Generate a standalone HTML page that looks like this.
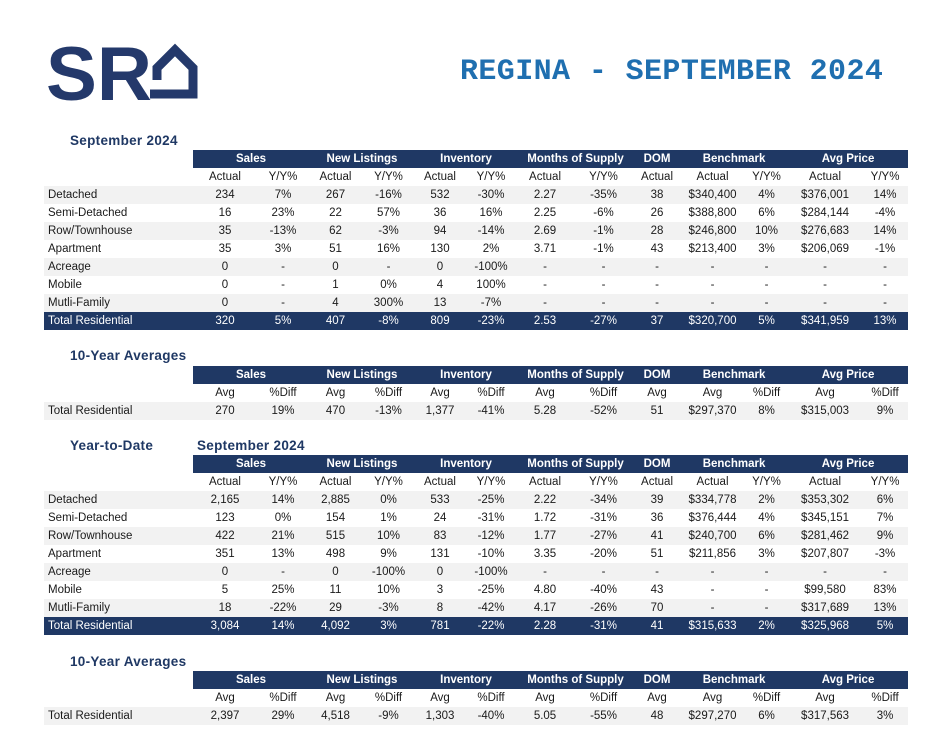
<!DOCTYPE html>
<html><head><meta charset="utf-8"><style>
body{margin:0;width:928px;height:751px;background:#fff;position:relative;font-family:"Liberation Sans",Arial,sans-serif;overflow:hidden}
.t{position:absolute;left:44px;border-collapse:collapse;table-layout:fixed;width:864px;font-size:11.5px;color:#1a1a1a}
.t td{height:18px;padding:0;text-align:center;white-space:nowrap;line-height:18px}
.t td.l{text-align:left;padding-left:4px}
.h td.b{background:#1f3864;color:#fff;font-weight:bold}
.g td{background:#f2f2f2}
.tot td{background:#1f3864;color:#fff}
.sec{position:absolute;font-weight:bold;font-size:13.5px;color:#1f3864;letter-spacing:0.3px}
.title{position:absolute;left:460px;top:55px;font-family:"Liberation Mono",monospace;font-weight:bold;font-size:30px;color:#1f6fb0;letter-spacing:0.4px}
</style></head><body>
<svg style="position:absolute;left:40px;top:38px" width="170" height="70">
<text x="6" y="62" font-family="Liberation Sans,Arial,sans-serif" font-weight="bold" font-size="76" fill="#24396b" textLength="106" lengthAdjust="spacingAndGlyphs">SR</text>
<path d="M110 56 L153 56 L153 30 L135 12 L117 30 L117 42" fill="none" stroke="#24396b" stroke-width="9" stroke-linejoin="miter"/>
</svg>
<div class="title">REGINA - SEPTEMBER 2024</div>

<div class="sec" style="left:70px;top:133px">September 2024</div>
<table class="t" style="top:150px">
<colgroup><col style="width:149px"><col style="width:64px"><col style="width:52px"><col style="width:53px"><col style="width:53px"><col style="width:50px"><col style="width:52px"><col style="width:56px"><col style="width:61px"><col style="width:46px"><col style="width:65px"><col style="width:43px"><col style="width:74px"><col style="width:46px"></colgroup>
<tr class="h"><td></td><td class="b" colspan="2">Sales</td><td class="b" colspan="2">New Listings</td><td class="b" colspan="2">Inventory</td><td class="b" colspan="2">Months of Supply</td><td class="b">DOM</td><td class="b" colspan="2">Benchmark</td><td class="b" colspan="2">Avg Price</td></tr>
<tr><td></td><td>Actual</td><td>Y/Y%</td><td>Actual</td><td>Y/Y%</td><td>Actual</td><td>Y/Y%</td><td>Actual</td><td>Y/Y%</td><td>Actual</td><td>Actual</td><td>Y/Y%</td><td>Actual</td><td>Y/Y%</td></tr>
<tr class="g"><td class="l">Detached</td><td>234</td><td>7%</td><td>267</td><td>-16%</td><td>532</td><td>-30%</td><td>2.27</td><td>-35%</td><td>38</td><td>$340,400</td><td>4%</td><td>$376,001</td><td>14%</td></tr>
<tr><td class="l">Semi-Detached</td><td>16</td><td>23%</td><td>22</td><td>57%</td><td>36</td><td>16%</td><td>2.25</td><td>-6%</td><td>26</td><td>$388,800</td><td>6%</td><td>$284,144</td><td>-4%</td></tr>
<tr class="g"><td class="l">Row/Townhouse</td><td>35</td><td>-13%</td><td>62</td><td>-3%</td><td>94</td><td>-14%</td><td>2.69</td><td>-1%</td><td>28</td><td>$246,800</td><td>10%</td><td>$276,683</td><td>14%</td></tr>
<tr><td class="l">Apartment</td><td>35</td><td>3%</td><td>51</td><td>16%</td><td>130</td><td>2%</td><td>3.71</td><td>-1%</td><td>43</td><td>$213,400</td><td>3%</td><td>$206,069</td><td>-1%</td></tr>
<tr class="g"><td class="l">Acreage</td><td>0</td><td>-</td><td>0</td><td>-</td><td>0</td><td>-100%</td><td>-</td><td>-</td><td>-</td><td>-</td><td>-</td><td>-</td><td>-</td></tr>
<tr><td class="l">Mobile</td><td>0</td><td>-</td><td>1</td><td>0%</td><td>4</td><td>100%</td><td>-</td><td>-</td><td>-</td><td>-</td><td>-</td><td>-</td><td>-</td></tr>
<tr class="g"><td class="l">Mutli-Family</td><td>0</td><td>-</td><td>4</td><td>300%</td><td>13</td><td>-7%</td><td>-</td><td>-</td><td>-</td><td>-</td><td>-</td><td>-</td><td>-</td></tr>
<tr class="tot"><td class="l">Total Residential</td><td>320</td><td>5%</td><td>407</td><td>-8%</td><td>809</td><td>-23%</td><td>2.53</td><td>-27%</td><td>37</td><td>$320,700</td><td>5%</td><td>$341,959</td><td>13%</td></tr>
</table>

<div class="sec" style="left:70px;top:348px">10-Year Averages</div>
<table class="t" style="top:366px">
<colgroup><col style="width:149px"><col style="width:64px"><col style="width:52px"><col style="width:53px"><col style="width:53px"><col style="width:50px"><col style="width:52px"><col style="width:56px"><col style="width:61px"><col style="width:46px"><col style="width:65px"><col style="width:43px"><col style="width:74px"><col style="width:46px"></colgroup>
<tr class="h"><td></td><td class="b" colspan="2">Sales</td><td class="b" colspan="2">New Listings</td><td class="b" colspan="2">Inventory</td><td class="b" colspan="2">Months of Supply</td><td class="b">DOM</td><td class="b" colspan="2">Benchmark</td><td class="b" colspan="2">Avg Price</td></tr>
<tr><td></td><td>Avg</td><td>%Diff</td><td>Avg</td><td>%Diff</td><td>Avg</td><td>%Diff</td><td>Avg</td><td>%Diff</td><td>Avg</td><td>Avg</td><td>%Diff</td><td>Avg</td><td>%Diff</td></tr>
<tr class="g"><td class="l">Total Residential</td><td>270</td><td>19%</td><td>470</td><td>-13%</td><td>1,377</td><td>-41%</td><td>5.28</td><td>-52%</td><td>51</td><td>$297,370</td><td>8%</td><td>$315,003</td><td>9%</td></tr>
</table>

<div class="sec" style="left:70px;top:438px">Year-to-Date</div>
<div class="sec" style="left:197px;top:438px">September 2024</div>
<table class="t" style="top:455px">
<colgroup><col style="width:149px"><col style="width:64px"><col style="width:52px"><col style="width:53px"><col style="width:53px"><col style="width:50px"><col style="width:52px"><col style="width:56px"><col style="width:61px"><col style="width:46px"><col style="width:65px"><col style="width:43px"><col style="width:74px"><col style="width:46px"></colgroup>
<tr class="h"><td></td><td class="b" colspan="2">Sales</td><td class="b" colspan="2">New Listings</td><td class="b" colspan="2">Inventory</td><td class="b" colspan="2">Months of Supply</td><td class="b">DOM</td><td class="b" colspan="2">Benchmark</td><td class="b" colspan="2">Avg Price</td></tr>
<tr><td></td><td>Actual</td><td>Y/Y%</td><td>Actual</td><td>Y/Y%</td><td>Actual</td><td>Y/Y%</td><td>Actual</td><td>Y/Y%</td><td>Actual</td><td>Actual</td><td>Y/Y%</td><td>Actual</td><td>Y/Y%</td></tr>
<tr class="g"><td class="l">Detached</td><td>2,165</td><td>14%</td><td>2,885</td><td>0%</td><td>533</td><td>-25%</td><td>2.22</td><td>-34%</td><td>39</td><td>$334,778</td><td>2%</td><td>$353,302</td><td>6%</td></tr>
<tr><td class="l">Semi-Detached</td><td>123</td><td>0%</td><td>154</td><td>1%</td><td>24</td><td>-31%</td><td>1.72</td><td>-31%</td><td>36</td><td>$376,444</td><td>4%</td><td>$345,151</td><td>7%</td></tr>
<tr class="g"><td class="l">Row/Townhouse</td><td>422</td><td>21%</td><td>515</td><td>10%</td><td>83</td><td>-12%</td><td>1.77</td><td>-27%</td><td>41</td><td>$240,700</td><td>6%</td><td>$281,462</td><td>9%</td></tr>
<tr><td class="l">Apartment</td><td>351</td><td>13%</td><td>498</td><td>9%</td><td>131</td><td>-10%</td><td>3.35</td><td>-20%</td><td>51</td><td>$211,856</td><td>3%</td><td>$207,807</td><td>-3%</td></tr>
<tr class="g"><td class="l">Acreage</td><td>0</td><td>-</td><td>0</td><td>-100%</td><td>0</td><td>-100%</td><td>-</td><td>-</td><td>-</td><td>-</td><td>-</td><td>-</td><td>-</td></tr>
<tr><td class="l">Mobile</td><td>5</td><td>25%</td><td>11</td><td>10%</td><td>3</td><td>-25%</td><td>4.80</td><td>-40%</td><td>43</td><td>-</td><td>-</td><td>$99,580</td><td>83%</td></tr>
<tr class="g"><td class="l">Mutli-Family</td><td>18</td><td>-22%</td><td>29</td><td>-3%</td><td>8</td><td>-42%</td><td>4.17</td><td>-26%</td><td>70</td><td>-</td><td>-</td><td>$317,689</td><td>13%</td></tr>
<tr class="tot"><td class="l">Total Residential</td><td>3,084</td><td>14%</td><td>4,092</td><td>3%</td><td>781</td><td>-22%</td><td>2.28</td><td>-31%</td><td>41</td><td>$315,633</td><td>2%</td><td>$325,968</td><td>5%</td></tr>
</table>

<div class="sec" style="left:70px;top:654px">10-Year Averages</div>
<table class="t" style="top:671px">
<colgroup><col style="width:149px"><col style="width:64px"><col style="width:52px"><col style="width:53px"><col style="width:53px"><col style="width:50px"><col style="width:52px"><col style="width:56px"><col style="width:61px"><col style="width:46px"><col style="width:65px"><col style="width:43px"><col style="width:74px"><col style="width:46px"></colgroup>
<tr class="h"><td></td><td class="b" colspan="2">Sales</td><td class="b" colspan="2">New Listings</td><td class="b" colspan="2">Inventory</td><td class="b" colspan="2">Months of Supply</td><td class="b">DOM</td><td class="b" colspan="2">Benchmark</td><td class="b" colspan="2">Avg Price</td></tr>
<tr><td></td><td>Avg</td><td>%Diff</td><td>Avg</td><td>%Diff</td><td>Avg</td><td>%Diff</td><td>Avg</td><td>%Diff</td><td>Avg</td><td>Avg</td><td>%Diff</td><td>Avg</td><td>%Diff</td></tr>
<tr class="g"><td class="l">Total Residential</td><td>2,397</td><td>29%</td><td>4,518</td><td>-9%</td><td>1,303</td><td>-40%</td><td>5.05</td><td>-55%</td><td>48</td><td>$297,270</td><td>6%</td><td>$317,563</td><td>3%</td></tr>
</table>
</body></html>
